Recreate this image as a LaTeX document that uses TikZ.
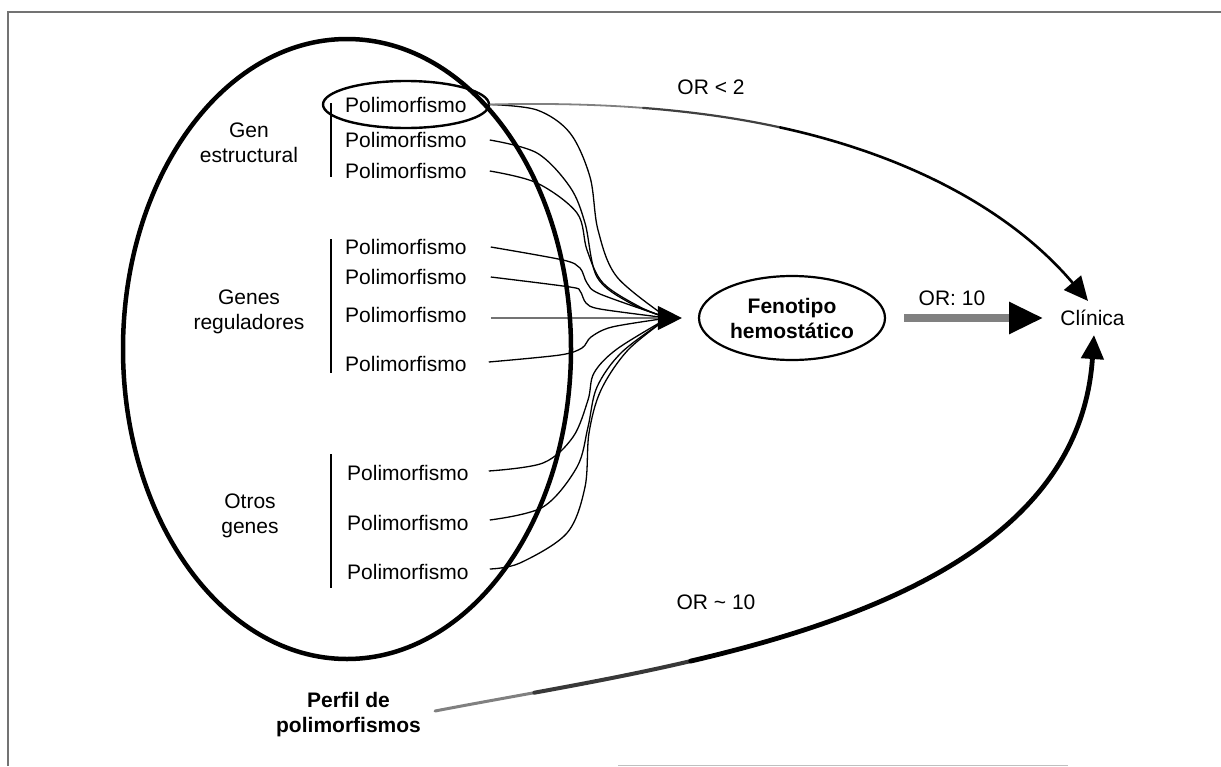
\documentclass[tikz,border=0pt]{standalone}
\usepackage{fontspec}
\setmainfont{Liberation Sans}
\usetikzlibrary{shapes.geometric,arrows.meta}
\begin{document}
\begin{tikzpicture}[x=1pt,y=-1pt,
  every node/.style={font=\fontsize{21}{25}\selectfont, inner sep=0pt},
  poly/.style={anchor=west},
  boldtxt/.style={font=\fontsize{21}{25}\selectfont\bfseries, align=center},
  conn/.style={line width=1.3pt, black},
  bar/.style={line width=1.4pt, black},
  ditherline/.style={black!55},
  bigtip/.style={-{Triangle[length=24pt,width=22pt,color=black]}}
]
\useasboundingbox (0,0) rectangle (1221,766);
% frame
\draw[black!55, line width=1.5pt] (8,766) -- (8,12) -- (1221,12);
\draw[black!25, line width=1pt] (618,765) -- (1068,765);

% polymorphism labels
\node[poly] (p1) at (345,105) {Polimorfismo};
\node[poly] (p2) at (345,140) {Polimorfismo};
\node[poly] (p3) at (345,171) {Polimorfismo};
\node[poly] (r1) at (345,247) {Polimorfismo};
\node[poly] (r2) at (345,277) {Polimorfismo};
\node[poly] (r3) at (345,315) {Polimorfismo};
\node[poly] (r4) at (345,364) {Polimorfismo};
\node[poly] (o1) at (347,473) {Polimorfismo};
\node[poly] (o2) at (347,523) {Polimorfismo};
\node[poly] (o3) at (347,572) {Polimorfismo};

% group labels
\node[align=center] (gs) at (249,142.5) {Gen\\estructural};
\node[align=center] (gr) at (249,312) {Genes\\reguladores};
\node[align=center] (go) at (250,516) {Otros\\genes};

% brackets
\draw[bar] (331,103) -- (331,177);
\draw[bar] (331,239) -- (331,373);
\draw[bar] (331,454) -- (331,588);

% small ellipse around first polymorphism
\node[draw, ellipse, line width=2.4pt, minimum width=166pt, minimum height=47pt] (sel) at (406,104.5) {};

% phenotype, clinic, labels
\node[draw, ellipse, line width=2.2pt, minimum width=186pt, minimum height=84pt, boldtxt] (fen) at (792,318) {Fenotipo\\hemostático};
\node[inner xsep=17pt, inner ysep=9pt] (cli) at (1092.5,318) {Clínica};
\node (or2) at (711,87) {OR < 2};
\node (or10) at (952,298) {OR: 10};
\node (ort) at (716,602) {OR \textasciitilde\ 10};
\node[boldtxt] (perf) at (348.5,714.5) {Perfil de\\polimorfismos};

% convergence point
\coordinate (tip) at ([xshift=-16pt]fen.west);
\coordinate (tipb) at ([xshift=-14pt]tip);
\coordinate (s2) at ([xshift=23pt]p2.east);
\coordinate (s3) at ([xshift=23pt]p3.east);
\coordinate (s4) at ([xshift=24pt]r1.east);
\coordinate (s5) at ([xshift=24pt]r2.east);
\coordinate (s6) at ([xshift=24pt,yshift=-3pt]r3.east);
\coordinate (s7) at ([xshift=22pt,yshift=2pt]r4.east);
\coordinate (s8) at ([xshift=20pt,yshift=2pt]o1.east);
\coordinate (s9) at ([xshift=21pt,yshift=3pt]o2.east);
\coordinate (s10) at ([xshift=21pt,yshift=3pt]o3.east);

% thin converging connectors
\draw[conn] plot[smooth, tension=0.55] coordinates {(sel.east) (537,110) (570,133) (590,177) (598,230) (617,277) (tipb)};
\draw[conn] plot[smooth, tension=0.55] coordinates {(s2) (537,153) (570,187) (585,223) (597,277) (630,303) (tipb)};
\draw[conn] plot[smooth, tension=0.55] coordinates {(s3) (537,183) (577,213) (587,250) (603,283) (640,307) (tipb)};
\draw[conn] plot[smooth, tension=0.5] coordinates {(s4) (563,260) (580,268) (587,283) (600,294) (tipb)};
\draw[conn] plot[smooth, tension=0.5] coordinates {(s5) (570,287) (580,291) (586,303) (600,309) (tipb)};
\draw[conn] plot[smooth, tension=0.5] coordinates {(s7) (560,355) (582,348) (591,337) (612,327) (tipb)};
\draw[conn] plot[smooth, tension=0.55] coordinates {(s8) (543,463) (573,437) (588,400) (594,373) (617,349) (tipb)};
\draw[conn] plot[smooth, tension=0.55] coordinates {(s9) (543,507) (577,467) (588,427) (597,387) (622,352) (tipb)};
\draw[conn] plot[smooth, tension=0.55] coordinates {(s10) (520,563) (567,533) (585,487) (589,433) (601,390) (628,350) (tipb)};
\draw[conn, ditherline, -{Triangle[length=24pt,width=24pt,color=black]}] (s6) -- (tip);

% big ellipse
\node[draw, ellipse, line width=4.5pt, minimum width=448pt, minimum height=620pt] (genes) at (347,349) {};

% OR < 2 connector (fading from grey to black)
\coordinate (ta) at (643.1,107.9);
\coordinate (tb) at (780.1,127.4);
\draw[black!50, line width=1.8pt, line cap=round] (sel.east) .. controls (543.2,103.2) and (594.6,104.2) .. (ta);
\draw[black!75, line width=2.2pt, line cap=round] (ta) .. controls (691.6,111.7) and (737.3,118.0) .. (tb);
\draw[line width=2.6pt, line cap=round, bigtip] (tb) .. controls (908.5,155.4) and (1011.2,210.4) .. ([xshift=-4.5pt]cli.north);

% OR ~ 10 connector (fading from grey to black)
\coordinate (ba) at (534.3,692.7);
\coordinate (bb) at (690.6,661.1);
\draw[black!50, line width=3pt, line cap=round] ([xshift=14pt,yshift=3.5pt]perf.east) .. controls (466.8,704.9) and (500.2,698.9) .. (ba);
\draw[black!78, line width=4pt, line cap=round] (ba) .. controls (585.6,683.3) and (638.6,673.3) .. (bb);
\draw[line width=4.8pt, line cap=round, bigtip] (bb) .. controls (893.0,613.9) and (1080.7,534.2) .. ([xshift=1.5pt]cli.south);

% OR: 10 thick arrow
\draw[line width=8pt, black!50, -{Triangle[length=34pt,width=30pt,color=black]}] ([xshift=18pt]fen.east) -- (cli.west);
\end{tikzpicture}
\end{document}
